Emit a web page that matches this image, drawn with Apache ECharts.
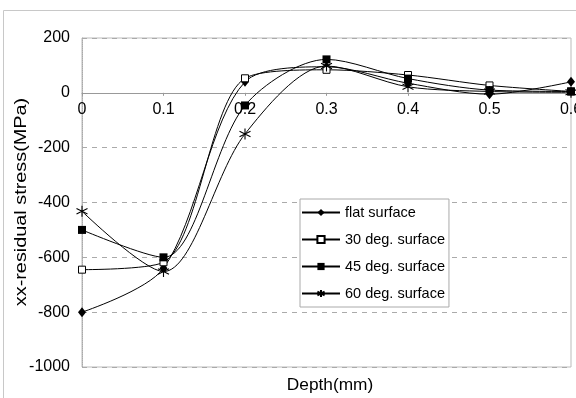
<!DOCTYPE html>
<html>
<head>
<meta charset="utf-8">
<script src="https://cdn.jsdelivr.net/npm/echarts@6/dist/echarts.min.js"></script>
<style>
  html, body { margin: 0; padding: 0; background: #fff; }
  #chart { width: 576px; height: 398px; }
</style>
</head>
<body>
<div id="chart"></div>
<script>
// depth (mm)
const depthList = [0, 0.1, 0.2, 0.3, 0.4, 0.5, 0.6];
// xx-residual stress (MPa)
const flatList = [-800, -640, 40, 95, 35, -5, 40];
const deg30List = [-645, -618, 53, 84, 65, 27, 5];
const deg45List = [-500, -600, -46, 122, 52, 10, 5];
const deg60List = [-432, -652, -150, 98, 22, 5, 2];
const legendList = ['flat surface', '30 deg. surface', '45 deg. surface', '60 deg. surface'];

const starPath = 'path://M5,0L5,10M0.7,2.5L9.3,7.5M0.7,7.5L9.3,2.5';

function pairs(values) {
  return depthList.map((d, i) => [d, values[i]]);
}

function makeSeries(name, values, symbol, symbolSize, itemStyle) {
  return {
    name: name,
    type: 'line',
    smooth: 0.3,
    data: pairs(values),
    symbol: symbol,
    symbolSize: symbolSize,
    showAllSymbol: true,
    lineStyle: { color: '#000', width: 1 },
    itemStyle: itemStyle,
    z: 3
  };
}

const chartDom = document.getElementById('chart');
const myChart = echarts.init(chartDom, null, { renderer: 'canvas' });

const font = "'Liberation Sans', Arial, sans-serif";

// 绘图区: 上 38, 下 367 -> 0 刻度线位于 y=93
const plotTop = 38;
const plotBottom = 367;
const zeroOffset = -(plotBottom - (plotTop + (plotBottom - plotTop) * 200 / 1200));

const option = {
  backgroundColor: '#fff',
  animation: false,
  textStyle: { fontFamily: font },
  graphic: [
    {
      type: 'rect',
      shape: { x: 3.5, y: 10.5, width: 600, height: 420 },
      style: { fill: 'none', stroke: '#c8c8c8', lineWidth: 1 },
      silent: true
    },
    {
      // X轴标题
      type: 'text',
      x: 330,
      y: 386,
      style: { text: 'Depth(mm)', fontSize: 16, fill: '#000', fontFamily: font, align: 'center', verticalAlign: 'middle' },
      scaleX: 1.08,
      silent: true
    },
    {
      // Y轴标题 (原图文字纵向拉伸)
      type: 'text',
      x: 22,
      y: 202,
      rotation: Math.PI / 2,
      scaleX: 1.24,
      style: { text: 'xx-residual stress(MPa)', fontSize: 16, fill: '#000', fontFamily: font, align: 'center', verticalAlign: 'middle' },
      silent: true
    }
  ],
  legend: {
    data: legendList,
    orient: 'vertical',
    left: 300,
    top: 199,
    itemWidth: 38,
    itemHeight: 9,
    itemGap: 12,
    padding: [6, 4, 6, 1],
    backgroundColor: '#fff',
    borderColor: '#aaa',
    borderWidth: 1,
    textStyle: { fontSize: 14.5, color: '#000', fontFamily: font }
  },
  grid: {
    left: 82,
    right: 5,
    top: plotTop,
    bottom: 398 - plotBottom,
    containLabel: false,
    outerBoundsMode: 'none',
    show: true,
    borderColor: '#bbb',
    borderWidth: 1
  },
  xAxis: {
    type: 'value',
    min: 0,
    max: 0.6,
    interval: 0.1,
    offset: zeroOffset,
    axisLine: { onZero: false, lineStyle: { color: '#999', width: 1 } },
    axisTick: { show: true, length: 3, inside: false, lineStyle: { color: '#999' } },
    axisLabel: { margin: 9, fontSize: 16, color: '#000', fontFamily: font },
    splitLine: { show: false }
  },
  yAxis: {
    type: 'value',
    min: -1000,
    max: 200,
    interval: 200,
    axisLine: { show: true, onZero: false, lineStyle: { color: '#aaa', type: 'dotted' } },
    axisTick: { show: false },
    axisLabel: { margin: 12, fontSize: 16, color: '#000', fontFamily: font, formatter: (v) => String(v) },
    splitLine: { show: true, lineStyle: { color: '#aaa', type: [5, 5] } }
  },
  series: [
    makeSeries(legendList[0], flatList, 'diamond', [8, 10], { color: '#000' }),
    makeSeries(legendList[1], deg30List, 'rect', 7, { color: '#fff', borderColor: '#000', borderWidth: 1 }),
    makeSeries(legendList[2], deg45List, 'rect', 8, { color: '#000' }),
    makeSeries(legendList[3], deg60List, starPath, 11, { color: '#000', borderColor: '#000', borderWidth: 1.1 })
  ]
};

option && myChart.setOption(option);
</script>
</body>
</html>
